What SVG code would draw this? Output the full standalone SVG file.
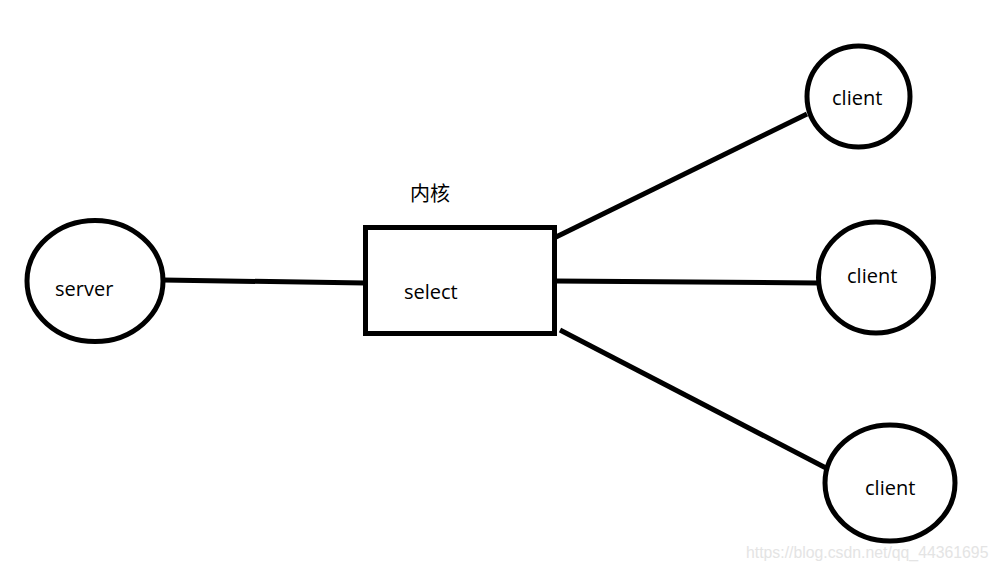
<svg xmlns="http://www.w3.org/2000/svg" width="998" height="570" viewBox="0 0 998 570">
<style>
.s{fill:none;stroke:#000;stroke-width:5}
text{font-family:"Open Sans","Noto Sans CJK SC",sans-serif;font-size:20px;fill:#000}
.m{font-family:"Liberation Sans",sans-serif;font-size:15.800px;fill:#e4e4e4}
</style>
<rect width="998" height="570" fill="#fff"/>
<g id="connectors">
<path class="s" d="M163 280L365 283"/>
<path class="s" d="M556 237L807 114"/>
<path class="s" d="M555 281L819 283"/>
<path class="s" d="M560 330L826 468"/>
</g>
<g id="server"><ellipse class="s" cx="95" cy="281" rx="68" ry="60.500"/><text x="55" y="296">server</text></g>
<g id="select"><rect class="s" x="365.500" y="227.500" width="189" height="106"/><text x="404" y="299">select</text></g>
<g id="kernel"><text x="410" y="201">内核</text></g>
<g id="client1"><ellipse class="s" cx="858.500" cy="96.500" rx="51.500" ry="50.500"/><text x="832" y="105">client</text></g>
<g id="client2"><ellipse class="s" cx="876" cy="277.500" rx="57.500" ry="55.500"/><text x="847" y="283">client</text></g>
<g id="client3"><ellipse class="s" cx="890" cy="483" rx="65" ry="58"/><text x="865" y="495">client</text></g>
<text class="m" x="746" y="558">https://blog.csdn.net/qq_44361695</text>
</svg>
